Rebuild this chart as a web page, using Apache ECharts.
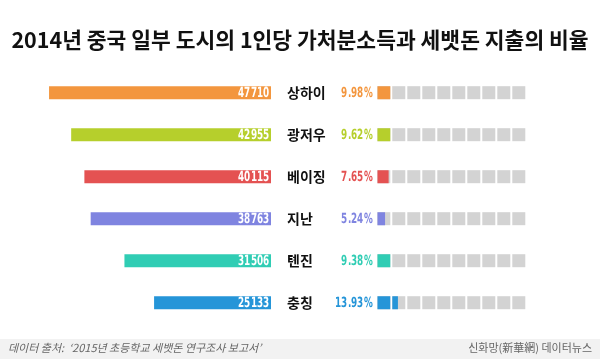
<!DOCTYPE html>
<html><head><meta charset="utf-8">
<script src="https://cdn.jsdelivr.net/npm/echarts@6/dist/echarts.min.js"></script>
<style>
html,body{margin:0;padding:0;background:#fff}#c{width:600px;height:359px}
@font-face{font-family:'NarrowNum';font-weight:bold;src:local('DejaVu Sans Condensed Bold'),local('DejaVuSansCondensed-Bold'),local('DejaVu Sans Bold');}
</style>
</head><body><div id="c"></div>
<script>
const cities = ['상하이', '광저우', '베이징', '지난', '톈진', '충칭'];
const income = [47710, 42955, 40115, 38763, 31506, 25133];
const ratio = [9.98, 9.62, 7.65, 5.24, 9.38, 13.93];
const colors = ['#f3963e', '#b6cf2c', '#e45252', '#7f84e0', '#30cdb4', '#2595d8'];
const fullScale = 100;

function draw(fontOk) {
  const chart = echarts.init(document.getElementById('c'), null, {renderer: 'canvas'});
  const numFont = 'bold 14px ' + (fontOk ? 'NarrowNum' : '"DejaVu Sans"');
  const kr = '"Noto Sans CJK KR","Noto Sans",sans-serif';
  const sx = 0.7;
  chart.setOption({
    backgroundColor: '#ffffff',
    animation: false,
    title: {
      text: '2014년 중국 일부 도시의 1인당 가처분소득과 세뱃돈 지출의 비율',
      left: 'center', top: 24,
      textStyle: {fontFamily: kr, fontSize: 21.5, fontWeight: 'bold', color: '#111'}
    },
    graphic: [
      {type: 'rect', shape: {x: 0, y: 339, width: 600, height: 20}, style: {fill: '#f2f2f2'}, silent: true},
      {type: 'text', left: 8, top: 342, style: {text: "데이터 출처:  ‘2015년 초등학교 세뱃돈 연구조사 보고서’", font: 'italic 11px ' + kr, fill: '#666'}},
      {type: 'text', right: 8, top: 342, style: {text: '신화망(新華網) 데이터뉴스', font: '11px ' + kr, fill: '#666'}}
    ],
    grid: [
      {left: 38.4, right: 329, top: 71.7, height: 252},
      {left: 377.3, width: 148, top: 71.7, height: 252}
    ],
    xAxis: [
      {gridIndex: 0, type: 'value', min: 0, max: 50000, inverse: true, show: false},
      {gridIndex: 1, type: 'value', min: 0, max: fullScale, show: false}
    ],
    yAxis: [
      {gridIndex: 0, type: 'category', data: cities, inverse: true, position: 'right',
       axisLine: {show: false}, axisTick: {show: false},
       axisLabel: {margin: 16, align: 'left', fontFamily: kr, fontSize: 14, fontWeight: 'bold', color: '#111'}},
      {gridIndex: 1, type: 'category', data: cities, inverse: true, show: false}
    ],
    series: [
      {type: 'bar', xAxisIndex: 0, yAxisIndex: 0, barWidth: 13,
       data: income.map((v, i) => ({value: v, itemStyle: {color: colors[i]}}))},
      {type: 'custom', xAxisIndex: 0, yAxisIndex: 0, z: 5,
       data: income.map((v, i) => [v, i]),
       renderItem: function (params, api) {
         const p = api.coord([0, api.value(1)]);
         return {type: 'text', x: p[0] - 1.5, y: p[1] + 0.5, scaleX: sx,
                 style: {text: String(api.value(0)), font: numFont, fill: '#fff',
                         align: 'right', verticalAlign: 'middle'}};
       }},
      {type: 'pictorialBar', xAxisIndex: 1, yAxisIndex: 1, symbol: 'rect',
       symbolSize: [13, 13], symbolRepeat: 10, symbolBoundingData: fullScale,
       itemStyle: {color: '#d3d3d3'}, z: 2,
       data: ratio.map(() => fullScale)},
      {type: 'pictorialBar', xAxisIndex: 1, yAxisIndex: 1, symbol: 'rect',
       symbolSize: [13, 13], symbolRepeat: 10, symbolBoundingData: fullScale, symbolClip: true, z: 3,
       data: ratio.map((v, i) => ({value: v, itemStyle: {color: colors[i]}}))},
      {type: 'custom', xAxisIndex: 1, yAxisIndex: 1, z: 5,
       data: ratio.map((v, i) => [v, i]),
       renderItem: function (params, api) {
         const i = params.dataIndex;
         const p = api.coord([0, api.value(1)]);
         return {type: 'text', x: p[0] - 4.5, y: p[1] + 0.5, scaleX: sx,
                 style: {text: api.value(0).toFixed(2) + '%', font: numFont, fill: colors[i],
                         align: 'right', verticalAlign: 'middle'}};
       }}
    ]
  });
}

if (document.fonts && document.fonts.load) {
  document.fonts.load('bold 14px NarrowNum').then(function (f) { draw(f && f.length > 0); })
    .catch(function () { draw(false); });
} else { draw(false); }
</script></body></html>
